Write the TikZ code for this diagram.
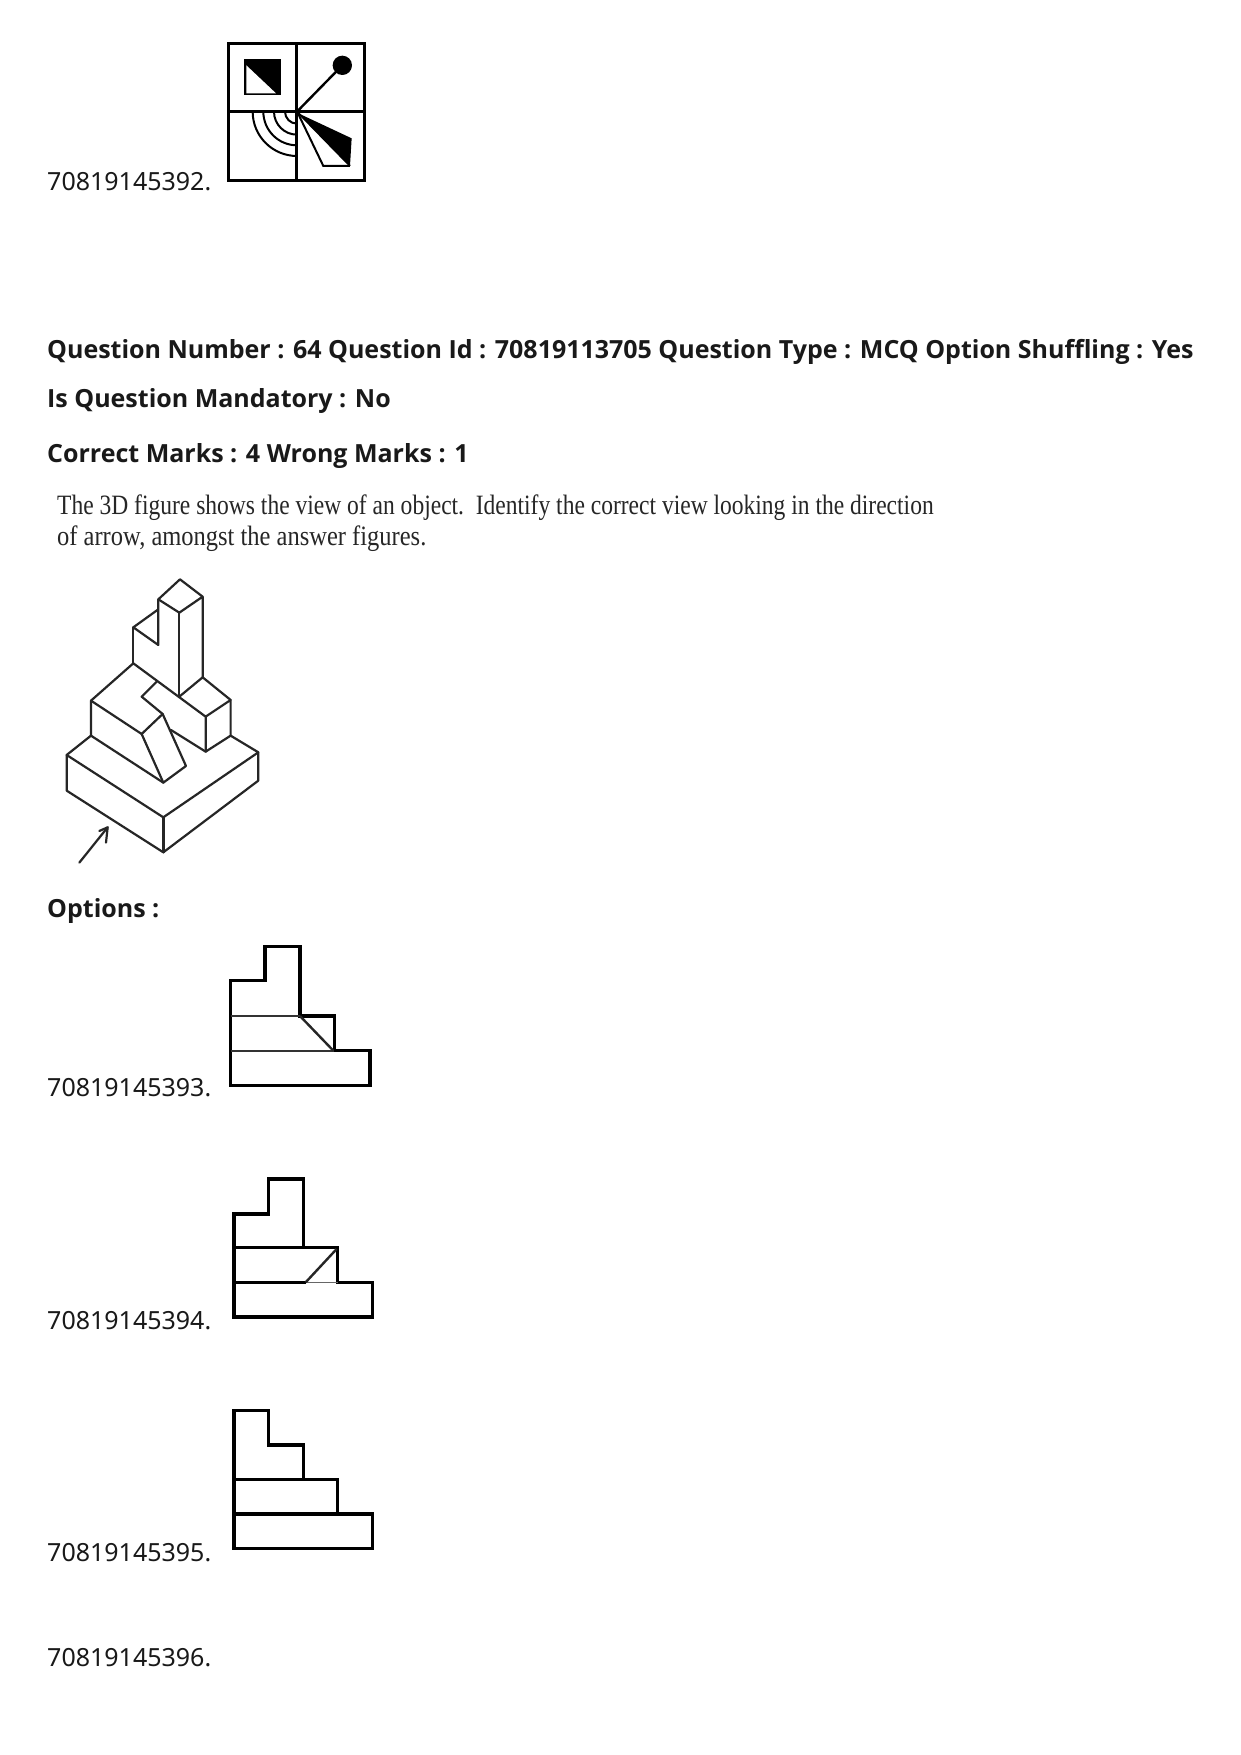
\documentclass[tikz,border=0pt]{standalone}
\usepackage{fontspec}
\setmainfont{Noto Sans}
\newfontfamily\headfont{Open Sans}
\newfontfamily\scanfont{Liberation Serif}
\tikzset{
  idlabel/.style={anchor=base west,inner sep=0pt,font=\fontsize{25}{30}\selectfont,text=black!90},
  headlabel/.style={anchor=base west,inner sep=0pt,font=\fontsize{25}{30}\headfont\bfseries,text=black!90},
  scanlabel/.style={anchor=base west,inner sep=0pt,font=\fontsize{28}{32}\scanfont,text=black!85},
  thickln/.style={line width=3.3pt,line join=miter},
  isoln/.style={line width=2.2pt,line join=round,line cap=round,black!85},
}
\begin{document}
\begin{tikzpicture}[x=1pt,y=-1pt]
\useasboundingbox (0,0) rectangle (1240,1755);
\fill[white] (0,0) rectangle (1240,1755);

% top figure
\begin{scope}[shift={(210pt,-30pt)},x=.3333pt,y=-.3333pt]
 \draw[line width=3pt] (55,42) rectangle (465,452);
 \draw[line width=3pt] (261,42)--(261,452) (55,245)--(465,245);
 \fill[black] (103,88) rectangle (213,196);
 \fill[white] (109,106)--(109,190)--(198,190)--cycle;
 \fill[black] (397,106) circle (29);
 \draw[line width=2.4pt] (397,106)--(261,245);
 \foreach \r in {36,69,101,133}{\draw[line width=2pt] (261-\r,245) arc[start angle=180,end angle=90,radius=\r];}
 \fill[black] (265,250)--(425,325)--(420,408)--cycle;
 \draw[line width=2pt] (262,246)--(340,408)--(420,408);
 \draw[line width=1.8pt] (262,246)--(420,408);
\end{scope}
\node[idlabel] (id2) at (47,190) {70819145392.};

% headings
\node[headlabel] (h1) at (47,358) {Question Number : 64 Question Id : 70819113705 Question Type : MCQ Option Shuffling : Yes};
\node[headlabel] (h2) at (47,407) {Is Question Mandatory : No};
\node[headlabel] (h3) at (47,462) {Correct Marks : 4 Wrong Marks : 1};
\node[scanlabel,xscale=.84] (q1) at (57,514) {The 3D figure shows the view of an object.\ \ Identify the correct view looking in the direction};
\node[scanlabel,xscale=.875] (q2) at (57,545) {of arrow, amongst the answer figures.};

% 3D figure
\begin{scope}[shift={(40pt,-570pt)},x=.3333pt,y=-.3333pt]
 \draw[isoln] (80,555)--(80,662)--(370,847)--(655,632)--(655,547)--(572,497);
 \draw[isoln] (80,555)--(370,742)--(655,547);
 \draw[isoln,line width=2.7pt] (370,742)--(370,847);
 \draw[isoln] (80,555)--(153,497)--(370,638)--(438,588)--(368,432)--(305,380)--(350,335);
 \draw[isoln] (153,497)--(153,392)--(280,280)--(497,440)--(497,545)--(572,497)--(572,390)--(497,440);
 \draw[isoln] (153,392)--(305,492)--(368,432);
 \draw[isoln] (305,492)--(370,638);
 \draw[isoln] (393,480)--(497,545);
 \draw[isoln] (572,390)--(488,322)--(418,380);
 \draw[isoln] (418,380)--(418,128);
 \draw[isoln] (488,322)--(488,80)--(420,28)--(355,88)--(418,128)--(488,80);
 \draw[isoln] (355,88)--(355,225)--(280,172)--(355,118);
 \draw[isoln] (280,172)--(280,280);
 \draw[isoln] (118,878)--(203,772);
 \draw[isoln] (178,783)--(203,772)--(198,818);
\end{scope}

\node[headlabel] (opts) at (47,917) {Options :};

% option 1
\begin{scope}[shift={(215pt,-935pt)},x=.3333pt,y=-.3333pt]
 \draw[thickln] (47,137)--(150,137)--(150,35)--(255,35)--(255,243)--(358,243)--(358,347)--(465,347)--(465,452)--(47,452)--cycle;
 \draw[line width=1.9pt,black!80] (47,243)--(255,243) (47,347)--(358,347);
 \draw[line width=2.4pt,black!85] (255,243)--(355,347);
\end{scope}
\node[idlabel] (id3) at (47,1096) {70819145393.};

% option 2
\begin{scope}[shift={(215pt,-1165pt)},x=.3333pt,y=-.3333pt]
 \draw[thickln] (57,147)--(160,147)--(160,42)--(265,42)--(265,247)--(368,247)--(368,352)--(473,352)--(473,456)--(57,456)--cycle;
 \draw[thickln] (57,247)--(265,247);
 \draw[thickln] (57,352)--(272,352);
 \draw[line width=1.6pt,black!60] (272,352)--(368,352);
 \draw[line width=2.4pt,black!85] (272,352)--(365,252);
\end{scope}
\node[idlabel] (id4) at (47,1329) {70819145394.};

% option 3
\begin{scope}[shift={(215pt,-1400pt)},x=.3333pt,y=-.3333pt]
 \draw[thickln] (57,32)--(160,32)--(160,135)--(265,135)--(265,238)--(368,238)--(368,342)--(473,342)--(473,446)--(57,446)--cycle;
 \draw[thickln] (57,238)--(265,238) (57,342)--(368,342);
\end{scope}
\node[idlabel] (id5) at (47,1561) {70819145395.};
\node[idlabel] (id6) at (47,1666) {70819145396.};
\end{tikzpicture}
\end{document}
